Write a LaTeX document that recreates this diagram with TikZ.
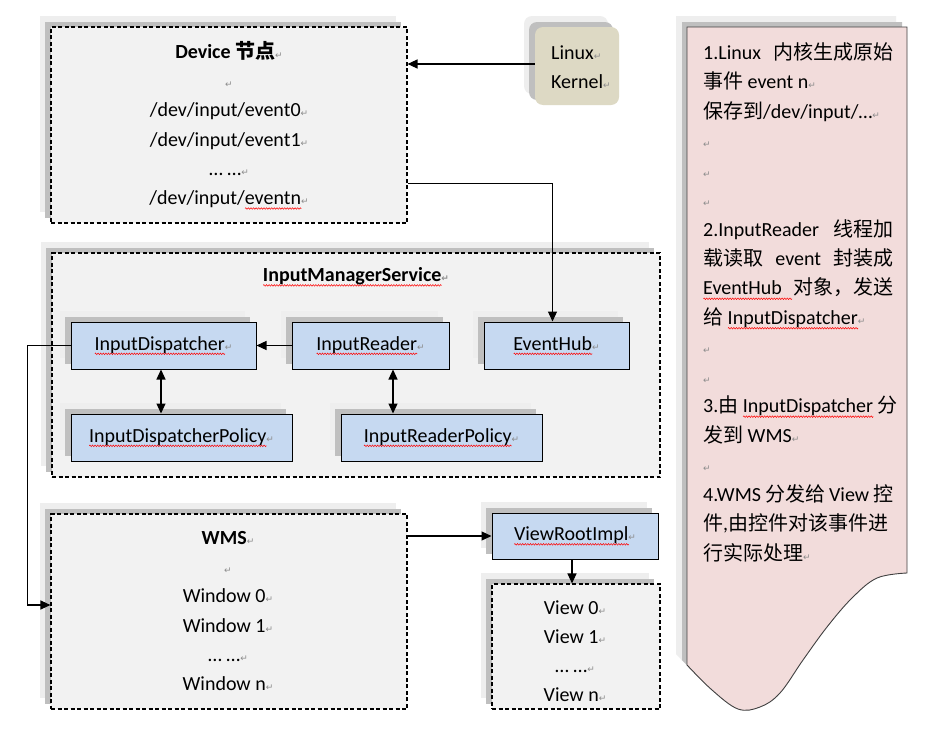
\documentclass[tikz,border=0pt]{standalone}
\usepackage{fontspec}
\setmainfont{Carlito}
\newfontfamily\cjk{Noto Sans CJK SC}
\newfontfamily\dv{DejaVu Sans}
\usetikzlibrary{arrows.meta,shadows,decorations.pathmorphing}
\definecolor{boxg}{HTML}{F2F2F2}
\definecolor{blu}{HTML}{C6D9F1}
\definecolor{tanc}{HTML}{DDD9C4}
\definecolor{pnk}{HTML}{F2DCDB}
\definecolor{shd}{HTML}{BFBFBF}
\definecolor{shl}{HTML}{EEEEEE}
\definecolor{pmc}{HTML}{8C8C8C}
\newdimen\sqw
\newsavebox\sqbox
\newcommand\sq[1]{\sbox\sqbox{#1}\sqw=\wd\sqbox\rlap{\tikz[x=1pt,y=1pt,baseline=0pt]\draw[red,line width=0.5pt,decorate,decoration={zigzag,amplitude=0.8pt,segment length=2.6pt}] (0pt,-3.8pt) -- (\the\sqw,-3.8pt);}\usebox\sqbox}
\newcommand\pmk{{\color{pmc}\dv\fontsize{9}{9}\selectfont ↵}}
\newcommand\tsz{\fontsize{20}{29.3}\selectfont}
\tikzset{
 shad/.style={general shadow={fill=shl,shadow xshift=-11pt,shadow yshift=11pt},
              general shadow={fill=shd,shadow xshift=-6pt,shadow yshift=5pt}},
 dbox/.style={shad,draw=black,line width=1.1pt,dash pattern=on 4pt off 2.5pt,fill=boxg,inner sep=0pt},
 bbox/.style={shad,draw=black,line width=1pt,fill=blu,inner sep=0pt,font=\tsz},
 txt/.style={inner sep=0pt,align=center,font=\tsz,anchor=north},
 arr/.style={line width=1.2pt,-{Triangle[length=10pt,width=9pt]}},
 darr/.style={line width=1.2pt,{Triangle[length=10pt,width=9pt]}-{Triangle[length=10pt,width=9pt]}},
}
\def\notepath{(687,27) -- (907,27) -- (907,573) -- plot[smooth,tension=0.6] coordinates {(907,573) (877,578) (852,598) (827,627) (803,660) (780,693) (760,707) (738,709) (712,690) (687,665)} -- cycle}
\begin{document}
\begin{tikzpicture}[x=1pt,y=-1pt]
\useasboundingbox (0,0) rectangle (944,736);
\fill[white] (0,0) rectangle (944,736);

% Device
\node[dbox,minimum width=356pt,minimum height=196pt] (dev) at (229,125) {};
\node[txt] (devt) at (229,38) {\rule{0pt}{20pt}\textbf{Device {\cjk 节点}}\pmk\\ \pmk\\ /dev/input/event0\pmk\\ /dev/input/event1\pmk\\ … …\pmk\\ /dev/input/\sq{eventn}\pmk};

% Linux kernel
\node[shad,fill=tanc,rounded corners=8pt,minimum width=84pt,minimum height=78pt,inner sep=0pt] (ker) at (577,66) {};
\node[txt,anchor=north west,align=left] (kert) at (551,39) {\rule{0pt}{20pt}Linux\pmk\\ Kernel\pmk};

% InputManagerService
\node[dbox,minimum width=608pt,minimum height=224pt] (ims) at (356,365) {};
\node[font=\tsz\bfseries,inner sep=0pt] (imst) at (356,277) {\sq{InputManagerService}\pmk};
\node[bbox,minimum width=185pt,minimum height=47pt] (disp) at (163.5,345.5) {\sq{InputDispatcher}\pmk};
\node[bbox,minimum width=157pt,minimum height=47pt] (reader) at (370.5,345.5) {\sq{InputReader}\pmk};
\node[bbox,minimum width=145pt,minimum height=47pt] (hub) at (556.5,345.5) {\sq{EventHub}\pmk};
\node[bbox,minimum width=221pt,minimum height=47pt] (dpol) at (181.5,437.5) {\sq{InputDispatcherPolicy}\pmk};
\node[bbox,minimum width=201pt,minimum height=47pt] (rpol) at (441.5,437.5) {\sq{InputReaderPolicy}\pmk};

% WMS
\node[dbox,minimum width=356pt,minimum height=195pt] (wms) at (229,611.5) {};
\node[txt] (wmst) at (228,524) {\rule{0pt}{20pt}\textbf{WMS}\pmk\\ \pmk\\ Window 0\pmk\\ Window 1\pmk\\ … …\pmk\\ Window n\pmk};

% ViewRootImpl and views
\node[bbox,minimum width=166pt,minimum height=46pt] (vri) at (575,536) {\sq{ViewRootImpl}\pmk};
\node[dbox,minimum width=168pt,minimum height=125pt] (view) at (576,646.5) {};
\node[txt,font=\fontsize{20}{29}\selectfont] (viewt) at (575,594) {\rule{0pt}{20pt}View 0\pmk\\ View 1\pmk\\ … …\pmk\\ View n\pmk};

% Note
\fill[shl,shift={(-11,-11)}] \notepath;
\fill[shd,shift={(-5,-5)}] \notepath;
\draw[fill=pnk,draw=black!75,line width=0.9pt] \notepath;
\node[inner sep=0pt,anchor=north west,align=left,font=\fontsize{20}{29.47}\selectfont] (notet) at (703,39) {%
\hbox to190pt{\rule{0pt}{20pt}1.Linux\hfill{\cjk 内核生成原始}}\\
{\cjk 事件} event n\pmk\\
{\cjk 保存到}/dev/input/…\pmk\\
\pmk\\
\pmk\\
\pmk\\
\hbox to190pt{2.InputReader\hfill{\cjk 线程加}}\\
\hbox to190pt{{\cjk 载读取}\hfill event\hfill{\cjk 封装成}}\\
\hbox to190pt{\sq{EventHub\hspace{10pt}}\hfill{\cjk 对象，发送}}\\
{\cjk 给} \sq{InputDispatcher}\pmk\\
\pmk\\
\pmk\\
3.{\cjk 由} \sq{InputDispatcher} {\cjk 分}\\
{\cjk 发到} WMS\pmk\\
\pmk\\
\hbox to190pt{4.WMS\hfill{\cjk 分发给}\hfill View\hfill{\cjk 控}}\\
{\cjk 件},{\cjk 由控件对该事件进}\\
{\cjk 行实际处理}\pmk};

% connectors
\draw[arr] ([yshift=2pt]ker.west) -- ([yshift=2pt]ker.west -| dev.east);
\draw[arr] ([yshift=40pt]dev.south east) -| ([xshift=-4pt]hub.north);
\draw[arr] (reader.west) -- (disp.east);
\draw[darr] ([xshift=-2.5pt]disp.south) -- ([xshift=-2.5pt]disp.south |- dpol.north);
\draw[darr] ([xshift=22.5pt]reader.south) -- ([xshift=22.5pt]reader.south |- rpol.north);
\draw[arr] (disp.west) -- ++(-43,0) |- ([yshift=6.5pt]wms.west);
\draw[arr] (vri.west -| wms.east) -- (vri.west);
\draw[arr] ([xshift=-3pt]vri.south) -- ([xshift=-3pt]vri.south |- view.north);
\end{tikzpicture}
\end{document}
